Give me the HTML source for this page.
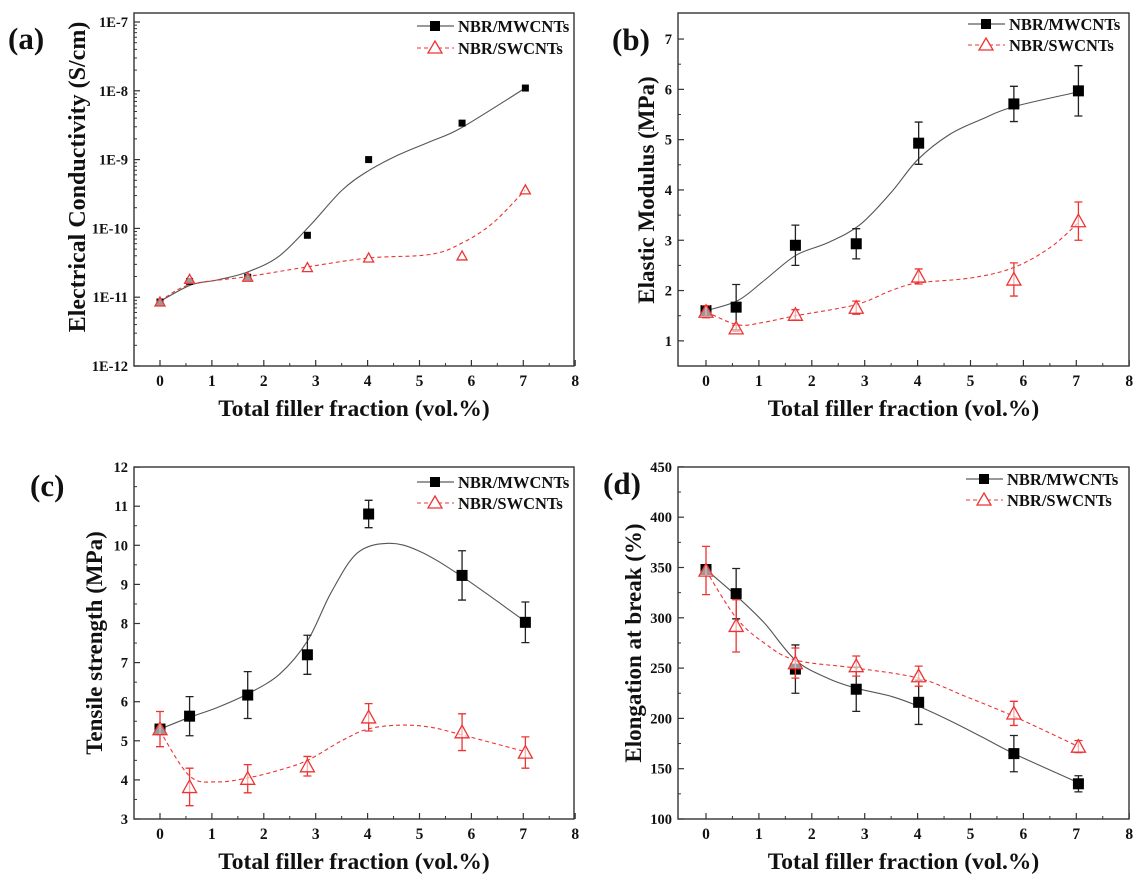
<!DOCTYPE html>
<html><head><meta charset="utf-8"><style>
html,body{margin:0;padding:0;background:#fff}
svg{display:block}
text{font-family:"Liberation Serif",serif;font-weight:bold;fill:#111}
</style></head><body>
<svg id="s" width="1139" height="885" xmlns="http://www.w3.org/2000/svg"></svg>
<script>
const S=document.getElementById('s');let out='';
function path(pts){let d='M'+pts[0][0].toFixed(1)+','+pts[0][1].toFixed(1);
for(let i=0;i<pts.length-1;i++){const p0=pts[i-1]||pts[i],p1=pts[i],p2=pts[i+1],p3=pts[i+2]||p2;
const c1=[p1[0]+(p2[0]-p0[0])/6,p1[1]+(p2[1]-p0[1])/6],c2=[p2[0]-(p3[0]-p1[0])/6,p2[1]-(p3[1]-p1[1])/6];
d+=' C'+c1.map(v=>v.toFixed(1))+' '+c2.map(v=>v.toFixed(1))+' '+p2.map(v=>v.toFixed(1));}return d;}
function panel(P){
const X=x=>P.x0+x*P.ux, Y=v=>P.yb-(P.f(v)-P.f(P.ymin))*P.uy;
out+=`<rect x="${P.L}" y="${P.T}" width="${P.R-P.L}" height="${P.B-P.T}" fill="none" stroke="#333" stroke-width="1.4"/>`;
for(let i=0;i<=8;i++){out+=`<line x1="${X(i)}" x2="${X(i)}" y1="${P.B}" y2="${P.B-6}" stroke="#333" stroke-width="1.2"/>`;
out+=`<text x="${X(i)}" y="${P.B+20}" font-size="15.5" text-anchor="middle">${i}</text>`;
if(i<8)out+=`<line x1="${X(i+.5)}" x2="${X(i+.5)}" y1="${P.B}" y2="${P.B-3}" stroke="#333"/>`;}
P.yt.forEach(t=>{const y=Y(t[0]);out+=`<line x1="${P.L}" x2="${P.L+6}" y1="${y}" y2="${y}" stroke="#333" stroke-width="1.2"/>`;
out+=`<text x="${P.L-6}" y="${y+5}" font-size="14.5" text-anchor="end">${t[1]}</text>`;});
P.ym.forEach(t=>{const y=Y(t);out+=`<line x1="${P.L}" x2="${P.L+3}" y1="${y}" y2="${y}" stroke="#333"/>`;});
out+=`<text x="${(P.L+P.R)/2}" y="${P.B+50}" font-size="23.5" text-anchor="middle">Total filler fraction (vol.%)</text>`;
out+=`<text transform="translate(${P.tx},${P.ty}) rotate(-90)" x="0" y="8" font-size="${P.tfs||23}" text-anchor="middle">${P.title}</text>`;
out+=`<text x="${P.lx}" y="${P.ly}" font-size="31">${P.letter}</text>`;
const g=P.leg;
out+=`<line x1="${g[0]}" x2="${g[0]+37}" y1="${g[1]}" y2="${g[1]}" stroke="#333"/><rect x="${g[0]+13}" y="${g[1]-5}" width="10" height="10" fill="#000"/><text x="${g[0]+41}" y="${g[1]+6}" font-size="16.5">NBR/MWCNTs</text>`;
out+=`<line x1="${g[0]}" x2="${g[0]+37}" y1="${g[2]}" y2="${g[2]}" stroke="#e33" stroke-dasharray="4,3"/><polygon points="${g[0]+18},${g[2]-7} ${g[0]+25},${g[2]+5} ${g[0]+11},${g[2]+5}" fill="#fff" stroke="#e33" stroke-width="1.3"/><text x="${g[0]+41}" y="${g[2]+6}" font-size="16.5">NBR/SWCNTs</text>`;
const xs=[0,0.57,1.69,2.84,4.02,5.82,7.04];
out+=`<path d="${path(P.mc.map(p=>[X(p[0]),Y(p[1])]))}" fill="none" stroke="#555" stroke-width="1.1"/>`;
out+=`<path d="${path(P.sc.map(p=>[X(p[0]),Y(p[1])]))}" fill="none" stroke="#e33" stroke-width="1.1" stroke-dasharray="4,3"/>`;
const ms=P.ms||11;
P.m.forEach((d,i)=>{const x=X(xs[i]),y=Y(d[0]);if(d[1]){const a=Y(d[0]+d[1]),b=Y(d[0]-d[1]);out+=`<path d="M${x},${a}V${b}M${x-4},${a}h8M${x-4},${b}h8" stroke="#222" stroke-width="1.3" fill="none"/>`;}
out+=`<rect x="${x-ms/2}" y="${y-ms/2}" width="${ms}" height="${ms}" fill="#000"/>`;});
P.s.forEach((d,i)=>{const x=X(xs[i]),y=Y(d[0]);if(d[1]){const a=Y(d[0]+d[1]),b=Y(d[0]-d[1]);out+=`<path d="M${x},${a}V${b}M${x-4},${a}h8M${x-4},${b}h8" stroke="#e33" stroke-width="1.3" fill="none"/>`;}
const t=P.ts||7;out+=`<polygon points="${x},${y-t} ${x+t},${y+t*0.8} ${x-t},${y+t*0.8}" fill="#fff" fill-opacity="0.6" stroke="#e33" stroke-width="1.3"/>`;});
}
const lg=v=>Math.log10(v);
const logMinor=[];for(let e=-12;e<-7;e++)for(let k=2;k<10;k++)logMinor.push(lg(k)+e);
panel({L:134,R:574,T:13,B:366,x0:160,ux:51.9,yb:366,uy:68.8,ymin:-12,f:v=>v,
yt:[[-12,'1E-12'],[-11,'1E-11'],[-10,'1E-10'],[-9,'1E-9'],[-8,'1E-8'],[-7,'1E-7']],ym:logMinor,
title:'Electrical Conductivity (S/cm)',tfs:24,tx:77,ty:177,letter:'(a)',lx:8,ly:49,leg:[417,26,48],ms:7,ts:5,
m:[[-11.07],[-10.77],[-10.71],[-10.1],[-9],[-8.47],[-7.96]],
s:[[-11.07],[-10.74],[-10.71],[-10.57],[-10.43],[-10.4],[-9.44]],
mc:[[0,-11.06],[0.6,-10.82],[1.1,-10.75],[1.7,-10.63],[2.3,-10.4],[2.9,-9.95],[3.5,-9.45],[4,-9.17],[4.6,-8.93],[5.2,-8.74],[5.8,-8.54],[7.04,-7.96]],
sc:[[0,-11.06],[0.57,-10.82],[1.69,-10.7],[2.84,-10.56],[4.02,-10.43],[5.2,-10.38],[5.8,-10.22],[6.4,-9.93],[7.04,-9.44]]});
panel({L:678,R:1129,T:13,B:366,x0:706,ux:52.9,yb:366,uy:50.3,ymin:0.5,f:v=>v,
yt:[[1,'1'],[2,'2'],[3,'3'],[4,'4'],[5,'5'],[6,'6'],[7,'7']],ym:[1.5,2.5,3.5,4.5,5.5,6.5],
title:'Elastic Modulus (MPa)',tx:646,ty:190,letter:'(b)',lx:612,ly:50,leg:[968,24,45],
m:[[1.6,0],[1.67,0.45],[2.9,0.4],[2.93,0.3],[4.93,0.42],[5.71,0.35],[5.97,0.5]],
s:[[1.58,0.12],[1.25,0.06],[1.52,0.1],[1.66,0.13],[2.28,0.15],[2.22,0.33],[3.38,0.38]],
mc:[[0,1.6],[0.6,1.8],[1.1,2.2],[1.7,2.7],[2.3,2.95],[2.9,3.3],[3.5,3.95],[4,4.6],[4.6,5.1],[5.2,5.4],[5.8,5.65],[7.04,5.95]],
sc:[[0,1.58],[0.6,1.32],[1.1,1.37],[1.7,1.5],[2.84,1.72],[3.5,2.0],[4,2.15],[5,2.25],[5.8,2.45],[6.5,2.85],[7.04,3.35]]});
panel({L:134,R:574,T:467,B:819,x0:160,ux:51.9,yb:819,uy:39.1,ymin:3,f:v=>v,
yt:[[3,'3'],[4,'4'],[5,'5'],[6,'6'],[7,'7'],[8,'8'],[9,'9'],[10,'10'],[11,'11'],[12,'12']],ym:[3.5,4.5,5.5,6.5,7.5,8.5,9.5,10.5,11.5],
title:'Tensile strength (MPa)',tx:94,ty:643,letter:'(c)',lx:30,ly:496,leg:[417,482,503],
m:[[5.3,0],[5.63,0.5],[6.17,0.6],[7.2,0.5],[10.8,0.35],[9.23,0.63],[8.03,0.52]],
s:[[5.3,0.45],[3.82,0.48],[4.03,0.36],[4.35,0.25],[5.6,0.35],[5.22,0.47],[4.7,0.4]],
mc:[[0,5.3],[0.57,5.6],[1.1,5.85],[1.69,6.2],[2.3,6.7],[2.84,7.55],[3.3,8.8],[3.8,9.8],[4.4,10.05],[5,9.85],[5.82,9.2],[7.04,8.05]],
sc:[[0,5.25],[0.57,4.1],[1.1,3.95],[1.69,4.05],[2.3,4.25],[2.84,4.5],[3.5,5.0],[4.0,5.3],[4.6,5.4],[5.2,5.35],[5.82,5.15],[7.04,4.72]]});
panel({L:678,R:1129,T:467,B:819,x0:706,ux:52.9,yb:819,uy:50.3/50,ymin:100,f:v=>v,
yt:[[100,'100'],[150,'150'],[200,'200'],[250,'250'],[300,'300'],[350,'350'],[400,'400'],[450,'450']],ym:[125,175,225,275,325,375,425],
title:'Elongation at break (%)',tx:633,ty:643,letter:'(d)',lx:603,ly:494,leg:[966,479,500],
m:[[348,0],[324,25],[249,24],[229,22],[216,22],[165,18],[135,8]],
s:[[347,24],[292,26],[255,15],[252,10],[242,10],[205,12],[172,6]],
mc:[[0,348],[0.57,322],[1.1,295],[1.69,258],[2.3,240],[2.84,230],[3.5,222],[4.02,212],[4.6,198],[5.2,182],[5.82,165],[7.04,136]],
sc:[[0,347],[0.57,300],[1.1,275],[1.69,258],[2.84,250],[4.02,240],[4.9,222],[5.82,202],[7.04,172]]});
S.innerHTML=out;
</script>
</body></html>
